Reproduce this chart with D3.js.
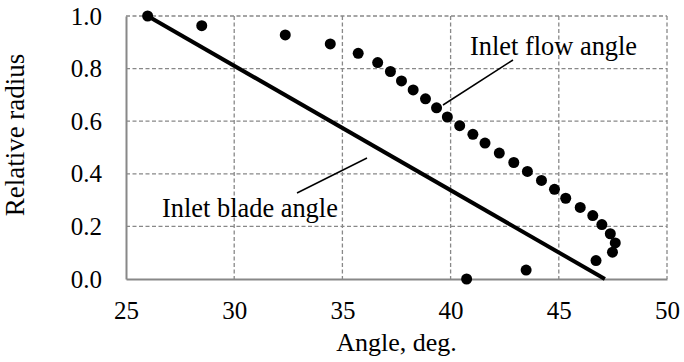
<!DOCTYPE html>
<html>
<head>
<meta charset="utf-8">
<script src="https://cdn.jsdelivr.net/npm/d3@7"></script>
</head>
<body style="margin:0">
<script>
// Inlet flow angle (points)
var flowAngle = [26.0, 28.5, 32.36, 34.44, 35.73, 36.63, 37.22, 37.73, 38.27, 38.84,
    39.35, 39.85, 40.42, 41.03, 41.59, 42.25, 42.92, 43.55, 44.20, 44.80,
    45.32, 45.99, 46.57, 46.99, 47.38, 47.61, 47.48, 46.72, 43.49, 40.74];
var flowRadius = [1.0, 0.963, 0.928, 0.894, 0.858, 0.823, 0.789, 0.753, 0.719, 0.685,
    0.651, 0.616, 0.583, 0.550, 0.517, 0.479, 0.443, 0.409, 0.375, 0.341,
    0.307, 0.272, 0.241, 0.207, 0.172, 0.137, 0.102, 0.070, 0.034, 0.0];

// Inlet blade angle (line)
var bladeAngle = [26.0, 47.13];
var bladeRadius = [1.0, 0.0];

var xTicks = [25, 30, 35, 40, 45, 50];
var yTicks = [0, 0.2, 0.4, 0.6, 0.8, 1.0];

var W = 684, H = 362;
var margin = {top: 16, right: 17, bottom: 83, left: 126};
var width = W - margin.left - margin.right,
    height = H - margin.top - margin.bottom;

var serif = "Liberation Serif";

var svg = d3.select("body").append("svg")
    .attr("width", W)
    .attr("height", H)
    .attr("font-family", serif);

var g = svg.append("g")
    .attr("transform", `translate(${margin.left},${margin.top})`);

var x = d3.scaleLinear().domain([25, 50]).range([0, width]);
var y = d3.scaleLinear().domain([0, 1]).range([height, 0]);

var grey = "#888888";

// gridlines (dashed)
g.selectAll(".vgrid")
    .data(xTicks.slice(1))
    .enter().append("line")
    .attr("x1", d => x(d)).attr("x2", d => x(d))
    .attr("y1", 0).attr("y2", height)
    .attr("stroke", grey).attr("stroke-width", 1.3)
    .attr("stroke-dasharray", "4,2.5");

g.selectAll(".hgrid")
    .data(yTicks.slice(1))
    .enter().append("line")
    .attr("x1", 0).attr("x2", width)
    .attr("y1", d => y(d)).attr("y2", d => y(d))
    .attr("stroke", grey).attr("stroke-width", 1.3)
    .attr("stroke-dasharray", "4,2.5");

// axes
var xAxis = d3.axisBottom(x).tickValues(xTicks).tickSize(0).tickPadding(22);
var yAxis = d3.axisLeft(y).tickValues(yTicks).tickSize(0).tickPadding(24)
    .tickFormat(d3.format(".1f"));

var gx = g.append("g")
    .attr("transform", `translate(0,${height})`)
    .call(xAxis);
var gy = g.append("g").call(yAxis);

[gx, gy].forEach(function(a) {
    a.attr("font-family", serif).attr("font-size", 25);
    a.select(".domain").attr("stroke", grey).attr("stroke-width", 2);
    a.selectAll("text")
        .attr("font-family", serif)
        .attr("font-size", 25)
        .attr("fill", "#000");
});

// blade angle line
var line = d3.line()
    .x(d => x(d[0]))
    .y(d => y(d[1]));

g.append("path")
    .datum(bladeAngle.map((a, i) => [a, bladeRadius[i]]))
    .attr("d", line)
    .attr("fill", "none")
    .attr("stroke", "#000")
    .attr("stroke-width", 4);

// flow angle points
g.selectAll(".pt")
    .data(flowAngle.map((a, i) => [a, flowRadius[i]]))
    .enter().append("circle")
    .attr("cx", d => x(d[0]))
    .attr("cy", d => y(d[1]))
    .attr("r", 5.5)
    .attr("fill", "#000");

// annotations
svg.append("line")
    .attr("x1", 513).attr("y1", 60)
    .attr("x2", 443).attr("y2", 105)
    .attr("stroke", "#000").attr("stroke-width", 1.5);
svg.append("text")
    .attr("x", 470).attr("y", 55)
    .attr("font-family", serif)
    .attr("font-size", 26.4)
    .text("Inlet flow angle");

svg.append("line")
    .attr("x1", 297).attr("y1", 193)
    .attr("x2", 367).attr("y2", 158)
    .attr("stroke", "#000").attr("stroke-width", 1.5);
svg.append("text")
    .attr("x", 162).attr("y", 217)
    .attr("font-family", serif)
    .attr("font-size", 26.4)
    .text("Inlet blade angle");

// axis titles
svg.append("text")
    .attr("x", margin.left + width / 2)
    .attr("y", 351)
    .attr("text-anchor", "middle")
    .attr("font-family", serif)
    .attr("font-size", 26)
    .text("Angle, deg.");

svg.append("text")
    .attr("transform", "translate(24,135) rotate(-90)")
    .attr("text-anchor", "middle")
    .attr("font-family", serif)
    .attr("font-size", 27)
    .text("Relative radius");
</script>
</body>
</html>
